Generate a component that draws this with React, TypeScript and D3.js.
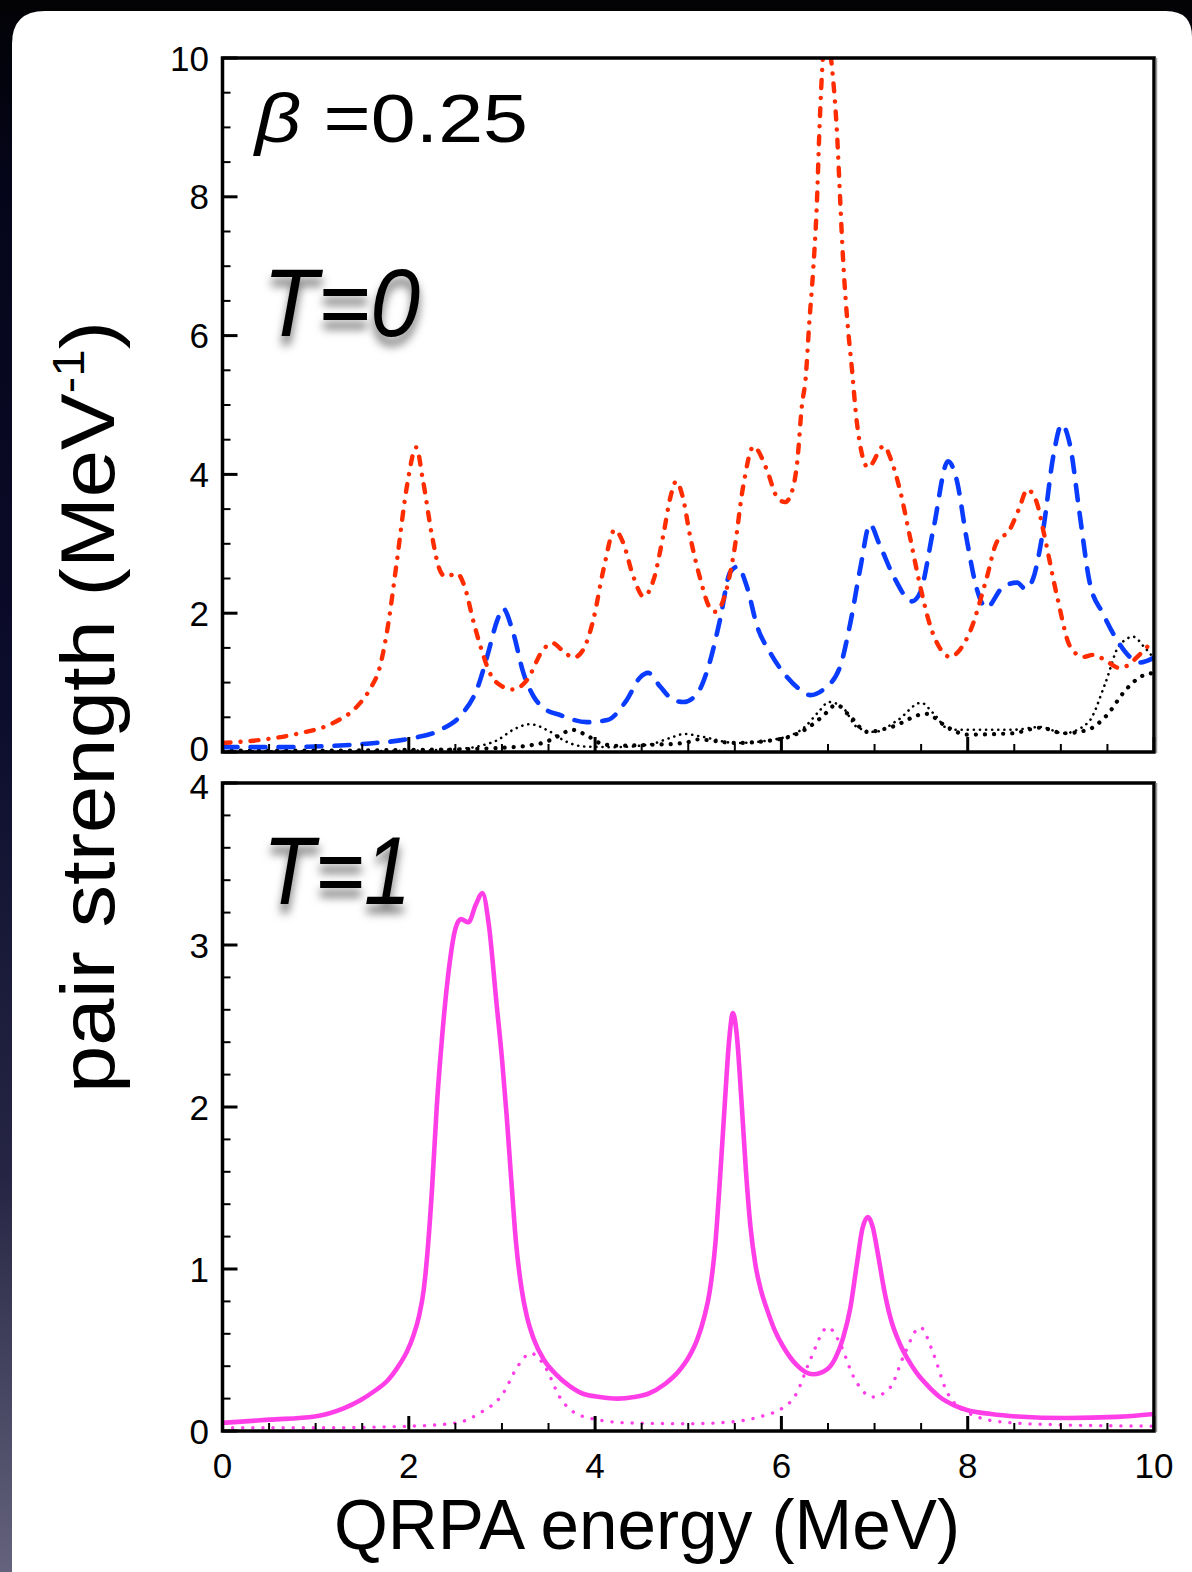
import React from "react";
import * as d3 from "d3";

type P = [number, number];

// ---- Data: QRPA energy (MeV) vs pair strength (MeV^-1) ----
const xTickValues = [0, 2, 4, 6, 8, 10];
const topYTicks = [0, 2, 4, 6, 8, 10];
const botYTicks = [0, 1, 2, 3, 4];

// T=0 panel
const redT0: P[] = [
  [0, 0.13], [0.5, 0.19], [0.83, 0.27], [1.19, 0.42], [1.44, 0.65], [1.58, 0.9], [1.69, 1.23],
  [1.78, 1.85], [1.87, 2.73], [1.98, 3.83], [2.08, 4.39], [2.15, 3.93], [2.25, 3.11], [2.32, 2.67],
  [2.39, 2.53], [2.52, 2.57], [2.6, 2.38], [2.69, 1.9], [2.77, 1.52], [2.87, 1.14], [3.01, 0.94],
  [3.12, 0.9], [3.27, 1.04], [3.44, 1.47], [3.54, 1.57], [3.66, 1.45], [3.77, 1.36], [3.87, 1.47],
  [3.98, 1.9], [4.09, 2.63], [4.21, 3.2], [4.3, 3.02], [4.41, 2.53], [4.52, 2.24], [4.63, 2.49],
  [4.73, 3.11], [4.81, 3.68], [4.87, 3.9], [4.94, 3.68], [5.02, 3.11], [5.13, 2.49], [5.23, 2.08],
  [5.29, 2.02], [5.38, 2.2], [5.49, 2.87], [5.59, 3.83], [5.7, 4.4], [5.84, 4.08], [5.95, 3.68],
  [6.04, 3.6], [6.11, 3.74], [6.17, 4.18], [6.22, 4.99], [6.26, 5.38], [6.3, 6.2], [6.34, 6.92],
  [6.38, 7.88], [6.41, 9.03], [6.48, 10.4], [6.54, 9.9], [6.6, 8.84], [6.63, 7.98], [6.66, 7.15],
  [6.7, 6.34], [6.76, 5.48], [6.81, 4.75], [6.93, 4.1], [7.1, 4.41], [7.18, 4.2], [7.27, 3.79],
  [7.38, 3.1], [7.49, 2.39], [7.6, 1.81], [7.7, 1.5], [7.81, 1.37], [7.92, 1.48], [8.02, 1.72],
  [8.2, 2.49], [8.31, 3.02], [8.45, 3.2], [8.55, 3.5], [8.64, 3.78], [8.74, 3.6], [8.81, 3.2],
  [8.96, 2.24], [9.1, 1.52], [9.24, 1.37], [9.35, 1.4], [9.5, 1.3], [9.63, 1.21], [9.72, 1.25],
  [9.82, 1.37], [10, 1.62],
];

const blueT0: P[] = [
  [0, 0.07], [0.5, 0.07], [1.0, 0.08], [1.55, 0.12], [2.0, 0.19], [2.34, 0.32], [2.58, 0.56],
  [2.73, 0.9], [2.84, 1.37], [2.95, 1.9], [3.01, 2.07], [3.12, 1.72], [3.23, 1.14], [3.34, 0.8],
  [3.45, 0.63], [3.63, 0.53], [3.91, 0.43], [4.13, 0.46], [4.34, 0.75], [4.48, 1.07], [4.57, 1.14],
  [4.7, 0.94], [4.84, 0.75], [4.95, 0.72], [5.1, 0.85], [5.23, 1.29], [5.34, 1.9], [5.45, 2.59],
  [5.53, 2.67], [5.63, 2.38], [5.74, 1.81], [5.88, 1.43], [6.06, 1.08], [6.2, 0.9], [6.31, 0.82],
  [6.45, 0.9], [6.63, 1.23], [6.74, 1.86], [6.85, 2.67], [6.95, 3.28], [7.05, 3.0], [7.22, 2.49],
  [7.4, 2.17], [7.49, 2.3], [7.63, 3.2], [7.79, 4.19], [7.88, 3.93], [7.99, 3.06], [8.1, 2.34],
  [8.2, 2.08], [8.38, 2.38], [8.53, 2.44], [8.62, 2.35], [8.7, 2.49], [8.81, 3.2], [8.92, 4.27],
  [9.01, 4.72], [9.1, 4.41], [9.2, 3.45], [9.31, 2.44], [9.45, 2.0], [9.6, 1.62], [9.74, 1.37],
  [9.85, 1.29], [10, 1.36],
];

const blackFineT0: P[] = [
  [0, 0.01], [1, 0.01], [2, 0.02], [2.5, 0.04], [2.8, 0.1], [2.95, 0.17], [3.12, 0.32], [3.3, 0.4],
  [3.52, 0.29], [3.66, 0.17], [3.88, 0.08], [4.2, 0.07], [4.59, 0.11], [4.8, 0.2], [4.96, 0.26],
  [5.15, 0.22], [5.51, 0.13], [6.0, 0.2], [6.25, 0.36], [6.4, 0.58], [6.51, 0.72], [6.66, 0.64],
  [6.81, 0.36], [7.0, 0.29], [7.25, 0.46], [7.5, 0.71], [7.63, 0.56], [7.81, 0.32], [8.1, 0.32],
  [8.48, 0.32], [8.78, 0.36], [9.03, 0.27], [9.29, 0.42], [9.48, 1.0], [9.62, 1.52], [9.78, 1.66],
  [9.89, 1.52], [10, 1.35],
];

const blackBoldT0: P[] = [
  [0, 0.02], [1, 0.02], [2, 0.03], [2.6, 0.04], [2.98, 0.06], [3.27, 0.09], [3.48, 0.15],
  [3.62, 0.24], [3.75, 0.32], [3.91, 0.24], [4.05, 0.13], [4.23, 0.09], [4.52, 0.1], [4.96, 0.13],
  [5.1, 0.18], [5.51, 0.13], [6.0, 0.19], [6.25, 0.32], [6.44, 0.51], [6.59, 0.68], [6.74, 0.51],
  [6.92, 0.29], [7.18, 0.36], [7.55, 0.55], [7.78, 0.36], [7.99, 0.25], [8.48, 0.27], [8.78, 0.35],
  [9.03, 0.27], [9.29, 0.32], [9.48, 0.51], [9.7, 0.9], [9.85, 1.08], [10, 1.14],
];

// T=1 panel
const magentaSolidT1: P[] = [
  [0, 0.05], [0.5, 0.07], [0.99, 0.09], [1.3, 0.14], [1.48, 0.19], [1.64, 0.25], [1.77, 0.31],
  [1.9, 0.41], [1.98, 0.49], [2.05, 0.59], [2.11, 0.71], [2.16, 0.87], [2.2, 1.1], [2.25, 1.5],
  [2.3, 2.0], [2.36, 2.45], [2.43, 2.85], [2.5, 3.1], [2.56, 3.16], [2.64, 3.14], [2.72, 3.25],
  [2.79, 3.32], [2.86, 3.12], [2.94, 2.65], [3.0, 2.3], [3.05, 1.95], [3.1, 1.55], [3.15, 1.17],
  [3.21, 0.88], [3.27, 0.7], [3.34, 0.57], [3.45, 0.44], [3.58, 0.35], [3.72, 0.28], [3.87, 0.23],
  [4.05, 0.21], [4.24, 0.2], [4.42, 0.21], [4.57, 0.23], [4.75, 0.29], [4.9, 0.37], [5.01, 0.46],
  [5.1, 0.57], [5.17, 0.7], [5.23, 0.86], [5.29, 1.15], [5.34, 1.55], [5.39, 2.0], [5.44, 2.42],
  [5.48, 2.58], [5.52, 2.45], [5.57, 2.05], [5.62, 1.6], [5.67, 1.25], [5.72, 1.03], [5.78, 0.87],
  [5.84, 0.76], [5.93, 0.62], [6.02, 0.52], [6.16, 0.41], [6.34, 0.35], [6.49, 0.38], [6.58, 0.45],
  [6.66, 0.57], [6.74, 0.76], [6.81, 1.03], [6.87, 1.25], [6.93, 1.32], [6.98, 1.26], [7.04, 1.08],
  [7.1, 0.88], [7.17, 0.7], [7.27, 0.54], [7.36, 0.44], [7.45, 0.36], [7.57, 0.28], [7.7, 0.21],
  [7.85, 0.16], [7.99, 0.13], [8.25, 0.105], [8.53, 0.09], [9.06, 0.08], [9.6, 0.087], [10, 0.105],
];

const magentaDotT1: P[] = [
  [0, 0.02], [1, 0.02], [2.02, 0.03], [2.51, 0.05], [2.76, 0.11], [3.01, 0.23], [3.17, 0.4],
  [3.31, 0.48], [3.46, 0.4], [3.62, 0.21], [3.87, 0.09], [4.36, 0.05], [5.0, 0.045], [5.48, 0.057],
  [5.84, 0.1], [5.98, 0.13], [6.16, 0.23], [6.31, 0.44], [6.5, 0.64], [6.63, 0.54], [6.77, 0.34],
  [6.98, 0.21], [7.17, 0.27], [7.31, 0.46], [7.49, 0.64], [7.63, 0.48], [7.77, 0.25], [7.95, 0.13],
  [8.35, 0.057], [9.06, 0.037], [10, 0.03],
];

// ---- Layout ----
const W = 1192;
const H = 1572;
const X0 = 222.5;
const X1 = 1154;
const TOP_Y0 = 58;
const TOP_Y1 = 752;
const BOT_Y0 = 783;
const BOT_Y1 = 1431;
const FONT = "'Liberation Sans', Arial, Helvetica, sans-serif";

const x = d3.scaleLinear().domain([0, 10]).range([X0, X1]);
const yTop = d3.scaleLinear().domain([0, 10]).range([TOP_Y1, TOP_Y0]);
const yBot = d3.scaleLinear().domain([0, 4]).range([BOT_Y1, BOT_Y0]);

function makeLine(y: d3.ScaleLinear<number, number>) {
  return d3
    .line<P>()
    .x((d) => x(d[0]))
    .y((d) => y(d[1]))
    .curve(d3.curveMonotoneX);
}

const lineTop = makeLine(yTop);
const lineBot = makeLine(yBot);

function Frame({
  y,
  y0,
  y1,
  yMajor,
  yMinorStep,
  yMax,
  showXLabels,
  labelShift,
}: {
  y: d3.ScaleLinear<number, number>;
  y0: number;
  y1: number;
  yMajor: number[];
  yMinorStep: number;
  yMax: number;
  showXLabels: boolean;
  labelShift: (v: number) => number;
}) {
  const yMinor = d3.range(0, yMax + 1e-6, yMinorStep).filter(
    (v) => !yMajor.some((m) => Math.abs(m - v) < 1e-6)
  );
  const xMinor = d3.range(0, 10.0001, 0.5).filter(
    (v) => !xTickValues.some((m) => Math.abs(m - v) < 1e-6)
  );
  return (
    <g>
      {yMajor.map((v) => (
        <line key={"ym" + v} x1={X0} x2={X0 + 15} y1={y(v)} y2={y(v)} stroke="#000" strokeWidth={3} />
      ))}
      {yMinor.map((v) => (
        <line key={"yn" + v} x1={X0} x2={X0 + 8} y1={y(v)} y2={y(v)} stroke="#000" strokeWidth={2} />
      ))}
      {xTickValues.map((v) => (
        <line key={"xm" + v} x1={x(v)} x2={x(v)} y1={y1} y2={y1 - 15} stroke="#000" strokeWidth={3} />
      ))}
      {xMinor.map((v) => (
        <line key={"xn" + v} x1={x(v)} x2={x(v)} y1={y1} y2={y1 - 8} stroke="#000" strokeWidth={2} />
      ))}
      <rect x={X0} y={y0} width={X1 - X0} height={y1 - y0} fill="none" stroke="#000" strokeWidth={3.5} />
      <line x1={X1 + 2.5} x2={X1 + 2.5} y1={y0} y2={y1 + 1} stroke="#9a9a9a" strokeWidth={1.5} />
      {yMajor.map((v) => (
        <text
          key={"yl" + v}
          x={209}
          y={y(v) + labelShift(v)}
          dy="0.36em"
          textAnchor="end"
          fontFamily={FONT}
          fontSize={35}
          fill="#000"
        >
          {v}
        </text>
      ))}
      {showXLabels &&
        xTickValues.map((v) => (
          <text
            key={"xl" + v}
            x={x(v)}
            y={1478}
            textAnchor="middle"
            fontFamily={FONT}
            fontSize={35}
            fill="#000"
          >
            {v}
          </text>
        ))}
    </g>
  );
}

export default function App() {
  return (
    <svg
      width={W}
      height={H}
      viewBox={`0 0 ${W} ${H}`}
      style={{ position: "absolute", left: 0, top: 0, display: "block" }}
    >
      <defs>
        <linearGradient id="bg" x1="0" y1="0" x2="0" y2="1">
          <stop offset="0" stopColor="#020206" />
          <stop offset="0.12" stopColor="#05051a" />
          <stop offset="0.45" stopColor="#0c0c2c" />
          <stop offset="0.75" stopColor="#262644" />
          <stop offset="1" stopColor="#64627c" />
        </linearGradient>
        <filter id="shadow" x="-20%" y="-20%" width="140%" height="160%">
          <feDropShadow dx="0" dy="9" stdDeviation="5" floodColor="#000" floodOpacity="0.55" />
        </filter>
        <clipPath id="clipTop">
          <rect x={X0} y={TOP_Y0} width={X1 - X0} height={TOP_Y1 - TOP_Y0} />
        </clipPath>
        <clipPath id="clipBot">
          <rect x={X0} y={BOT_Y0} width={X1 - X0} height={BOT_Y1 - BOT_Y0} />
        </clipPath>
      </defs>

      <rect x={0} y={0} width={W} height={H} fill="url(#bg)" />
      <rect x={0} y={0} width={W} height={12} fill="#030306" />
      <path
        d={`M ${12} ${H} L 12 ${44} Q 12 11 45 11 L ${W - 26} 11 Q ${W} 11 ${W} 37 L ${W} ${H} Z`}
        fill="#ffffff"
      />

      {/* Top panel: T=0 */}
      <g clipPath="url(#clipTop)">
        <path d={lineTop(blackFineT0) || ""} fill="none" stroke="#000" strokeWidth={2.6} strokeDasharray="0.1 6" strokeLinecap="round" />
        <path d={lineTop(blackBoldT0) || ""} fill="none" stroke="#000" strokeWidth={4.2} strokeDasharray="0.1 9" strokeLinecap="round" />
        <path d={lineTop(blueT0) || ""} fill="none" stroke="#0a3cff" strokeWidth={4.6} strokeDasharray="15 13" strokeLinecap="round" />
        <path d={lineTop(redT0) || ""} fill="none" stroke="#ff2c00" strokeWidth={4.4} strokeDasharray="8 10 0.1 10" strokeLinecap="round" />
      </g>
      <Frame
        y={yTop}
        y0={TOP_Y0}
        y1={TOP_Y1}
        yMajor={topYTicks}
        yMinorStep={0.5}
        yMax={10}
        showXLabels={false}
        labelShift={(v) => (v === 0 ? -4 : 0)}
      />

      {/* Bottom panel: T=1 */}
      <g clipPath="url(#clipBot)">
        <path d={lineBot(magentaDotT1) || ""} fill="none" stroke="#ff3ee8" strokeWidth={3.4} strokeDasharray="0.1 10" strokeLinecap="round" />
        <path d={lineBot(magentaSolidT1) || ""} fill="none" stroke="#ff3ee8" strokeWidth={4.6} />
      </g>
      <Frame
        y={yBot}
        y0={BOT_Y0}
        y1={BOT_Y1}
        yMajor={botYTicks}
        yMinorStep={0.2}
        yMax={4}
        showXLabels={true}
        labelShift={(v) => (v === 4 ? 3 : 0)}
      />

      {/* Annotations */}
      <text x={255} y={142} fontFamily={FONT} fontSize={68} fill="#000" textLength={273} lengthAdjust="spacingAndGlyphs">
        <tspan fontStyle="italic">β</tspan>
        <tspan> =0.25</tspan>
      </text>
      <text
        x={263}
        y={336}
        fontFamily={FONT}
        fontSize={96}
        fontStyle="italic"
        fill="#000"
        filter="url(#shadow)"
        textLength={157}
        lengthAdjust="spacingAndGlyphs"
      >
        T=0
      </text>
      <text
        x={263}
        y={904}
        fontFamily={FONT}
        fontSize={96}
        fontStyle="italic"
        fill="#000"
        filter="url(#shadow)"
        textLength={148}
        lengthAdjust="spacingAndGlyphs"
      >
        T=1
      </text>

      {/* Axis titles */}
      <text
        x={334}
        y={1549}
        fontFamily={FONT}
        fontSize={70}
        fill="#000"
        textLength={626}
        lengthAdjust="spacingAndGlyphs"
      >
        QRPA energy (MeV)
      </text>
      <text
        transform={`translate(114, ${1093}) rotate(-90)`}
        x={0}
        y={0}
        fontFamily={FONT}
        fontSize={76}
        fill="#000"
        textLength={772}
        lengthAdjust="spacingAndGlyphs"
      >
        <tspan>pair strength (MeV</tspan>
        <tspan fontSize={44} dy={-30}>-1</tspan>
        <tspan dy={30}>)</tspan>
      </text>
    </svg>
  );
}
